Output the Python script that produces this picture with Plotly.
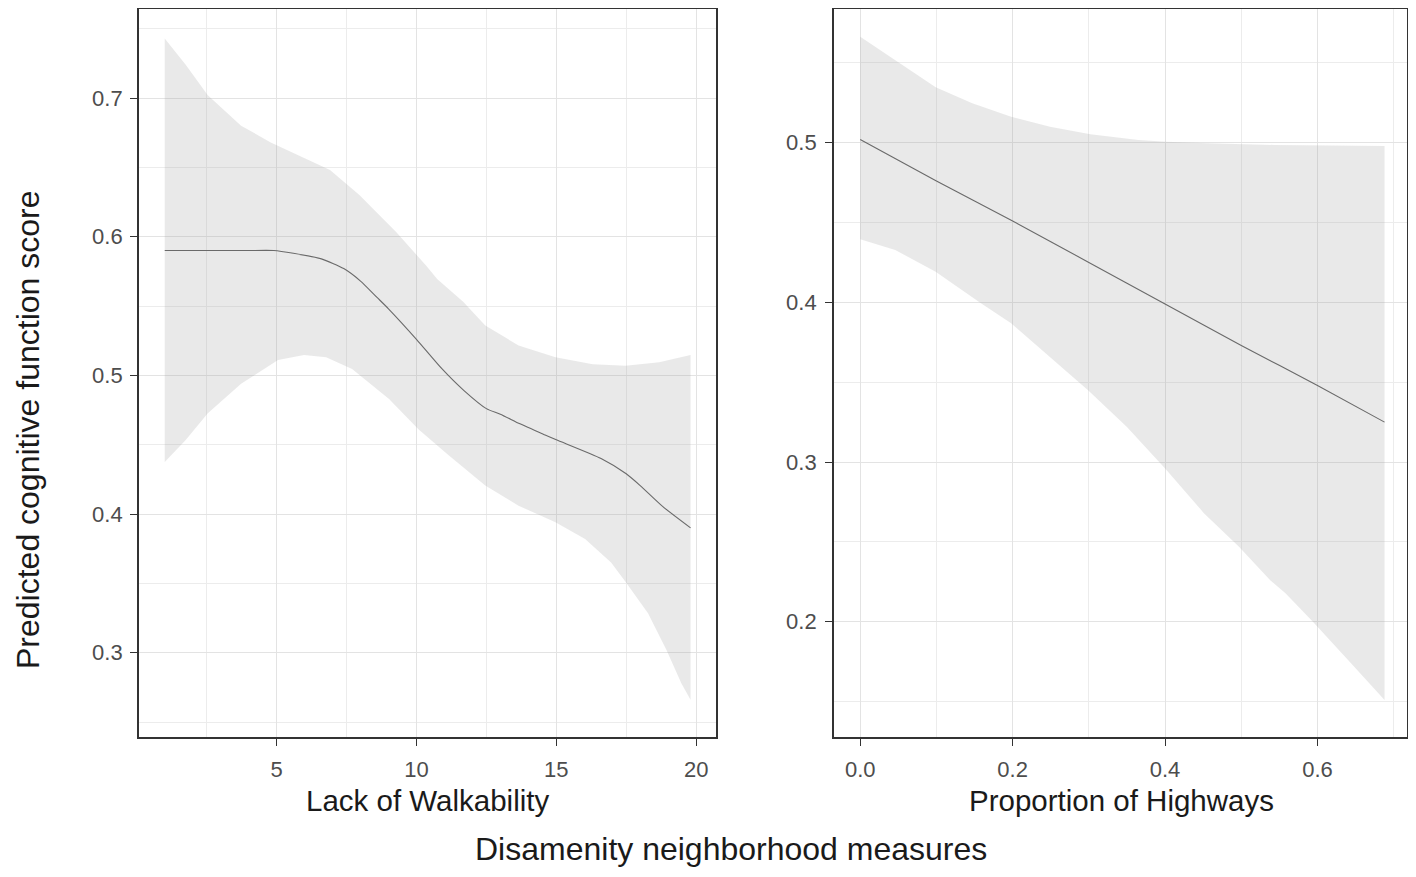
import plotly.graph_objects as go

# ---------------- data: Lack of Walkability ----------------
walk_x = [1.0, 2.0, 3.0, 4.0, 4.9, 5.6, 6.6, 7.4, 8.0, 8.6, 9.0, 10.0, 10.9, 11.7,
          12.5, 13.0, 13.7, 14.6, 15.0, 16.6, 17.5, 18.0, 18.8, 19.8]
walk_fit = [0.590, 0.590, 0.590, 0.590, 0.590, 0.588, 0.584, 0.577, 0.568, 0.556, 0.548,
            0.526, 0.505, 0.489, 0.476, 0.472, 0.465, 0.457, 0.4535, 0.440, 0.429, 0.4205,
            0.4055, 0.390]
walk_up_x = [1.0, 1.75, 2.54, 3.73, 4.79, 5.85, 6.91, 7.96, 9.29, 10.35, 10.74, 11.67,
             12.46, 13.65, 14.97, 16.30, 17.48, 18.68, 19.8]
walk_up_y = [0.743, 0.724, 0.702, 0.680, 0.668, 0.658, 0.648, 0.630, 0.603, 0.579, 0.5695,
             0.553, 0.536, 0.5215, 0.513, 0.508, 0.507, 0.5095, 0.5147]
walk_lo_x = [1.0, 1.75, 2.54, 3.73, 5.05, 5.98, 6.77, 7.70, 9.02, 10.08, 11.14, 12.46,
             13.65, 14.97, 16.03, 16.96, 17.48, 18.28, 18.94, 19.47, 19.8]
walk_lo_y = [0.4375, 0.4534, 0.4727, 0.494, 0.511, 0.5147, 0.513, 0.5046, 0.483, 0.461,
             0.4425, 0.4205, 0.406, 0.394, 0.382, 0.365, 0.351, 0.3284, 0.302, 0.278, 0.266]

# ---------------- data: Proportion of Highways ----------------
hw_x = [0.0, 0.1, 0.2, 0.3, 0.4, 0.5, 0.6, 0.688]
hw_fit = [0.502, 0.476, 0.451, 0.425, 0.399, 0.373, 0.348, 0.325]
hw_up_x = [0.0, 0.046, 0.099, 0.147, 0.198, 0.249, 0.302, 0.365, 0.401, 0.456, 0.543, 0.688]
hw_up_y = [0.5664, 0.5518, 0.5347, 0.5247, 0.5163, 0.510, 0.5053, 0.5017, 0.5006, 0.4996,
           0.4986, 0.498]
hw_lo_x = [0.0, 0.046, 0.099, 0.157, 0.198, 0.249, 0.299, 0.350, 0.401, 0.451, 0.497,
           0.538, 0.558, 0.594, 0.644, 0.688]
hw_lo_y = [0.4395, 0.4328, 0.4192, 0.400, 0.387, 0.366, 0.345, 0.322, 0.2955, 0.268, 0.247,
           0.226, 0.2178, 0.200, 0.174, 0.151]

# ---------------- text ----------------
y_title = "Predicted cognitive function score"
x_common = "Disamenity neighborhood measures"
x_left_title = "Lack of Walkability"
x_right_title = "Proportion of Highways"

# page has an 8px body margin, so the figure is drawn 8px in from the window corner
OFF = 8
W, H = 1416 - 2 * OFF, 877 - 2 * OFF
FONT = "Liberation Sans, Arial, sans-serif"
BAND = "rgba(153,153,153,0.22)"
LINE = "#6a6a6a"


def px(x):
    return min(max((x - OFF) / W, 0.0), 1.0)


def py(y):
    return min(max(1 - (y - OFF) / H, 0.0), 1.0)


fig = go.Figure()


def add_panel(xs_up, ys_up, xs_lo, ys_lo, xf, yf, xa, ya):
    fig.add_trace(go.Scatter(
        x=list(xs_up) + list(xs_lo)[::-1], y=list(ys_up) + list(ys_lo)[::-1],
        fill="toself", fillcolor=BAND, line=dict(width=0), mode="lines",
        hoverinfo="skip", showlegend=False, xaxis=xa, yaxis=ya))
    fig.add_trace(go.Scatter(
        x=xf, y=yf, mode="lines", line=dict(color=LINE, width=1.1, shape="spline", smoothing=0.6),
        showlegend=False, xaxis=xa, yaxis=ya))


add_panel(walk_up_x, walk_up_y, walk_lo_x, walk_lo_y, walk_x, walk_fit, "x", "y")
add_panel(hw_up_x, hw_up_y, hw_lo_x, hw_lo_y, hw_x, hw_fit, "x2", "y2")

axis_common = dict(
    showline=True, mirror=True, linecolor="#333333", linewidth=1.8,
    ticks="outside", ticklen=7, tickwidth=1.3, tickcolor="#333333",
    showgrid=True, gridcolor="#e3e3e3", gridwidth=1.2, zeroline=False,
    tickfont=dict(family=FONT, size=22, color="#4d4d4d"),
)

TOP = 9.0      # top border (px), just inside the visible page
RIGHT = 1406.5  # right border of the right panel (px)
ydom = [py(736.7), py(TOP)]

fig.update_layout(
    width=W, height=H, autosize=False,
    margin=dict(l=0, r=0, t=0, b=0),
    paper_bgcolor="white", plot_bgcolor="white",
    xaxis=dict(axis_common, domain=[px(139), px(716)], range=[0.08, 20.71],
               tick0=0, dtick=5, ticklabelstandoff=5, anchor="y",
               minor=dict(tick0=0, dtick=2.5, showgrid=True, gridcolor="#ececec", gridwidth=1, ticklen=0)),
    yaxis=dict(axis_common, domain=ydom, range=[0.2394, 0.7683 - (TOP - 3.3) / 1387],
               tick0=0, dtick=0.1, tickformat=".1f", ticklabelstandoff=3, anchor="x",
               minor=dict(tick0=0, dtick=0.05, showgrid=True, gridcolor="#ececec", gridwidth=1, ticklen=0)),
    xaxis2=dict(axis_common, domain=[px(834), px(RIGHT)],
                range=[-0.0344, 0.6 + (RIGHT - 1317.5) / 762],
                tick0=0, dtick=0.2, tickformat=".1f", ticklabelstandoff=5, anchor="y2",
                minor=dict(tick0=0, dtick=0.1, showgrid=True, gridcolor="#ececec", gridwidth=1, ticklen=0)),
    yaxis2=dict(axis_common, domain=ydom, range=[0.128, 0.5873 - (TOP - 3.3) / 1596.7],
                tick0=0, dtick=0.1, tickformat=".1f", ticklabelstandoff=4, anchor="x2",
                minor=dict(tick0=0, dtick=0.05, showgrid=True, gridcolor="#ececec", gridwidth=1, ticklen=0)),
    annotations=[
        dict(text=y_title, x=0.0, y=py(430), xref="paper", yref="paper", textangle=-90,
             showarrow=False, xanchor="left", yanchor="middle",
             font=dict(family=FONT, size=32, color="#1a1a1a")),
        dict(text=x_common, x=px(731), y=0.0, xref="paper", yref="paper",
             showarrow=False, xanchor="center", yanchor="bottom",
             font=dict(family=FONT, size=32, color="#1a1a1a")),
        dict(text=x_left_title, x=px(427), y=py(800), xref="paper", yref="paper",
             showarrow=False, xanchor="center", yanchor="middle",
             font=dict(family=FONT, size=29.5, color="#1a1a1a")),
        dict(text=x_right_title, x=px(1121), y=py(800), xref="paper", yref="paper",
             showarrow=False, xanchor="center", yanchor="middle",
             font=dict(family=FONT, size=29.5, color="#1a1a1a")),
    ],
)

fig.write_html("out.html")
